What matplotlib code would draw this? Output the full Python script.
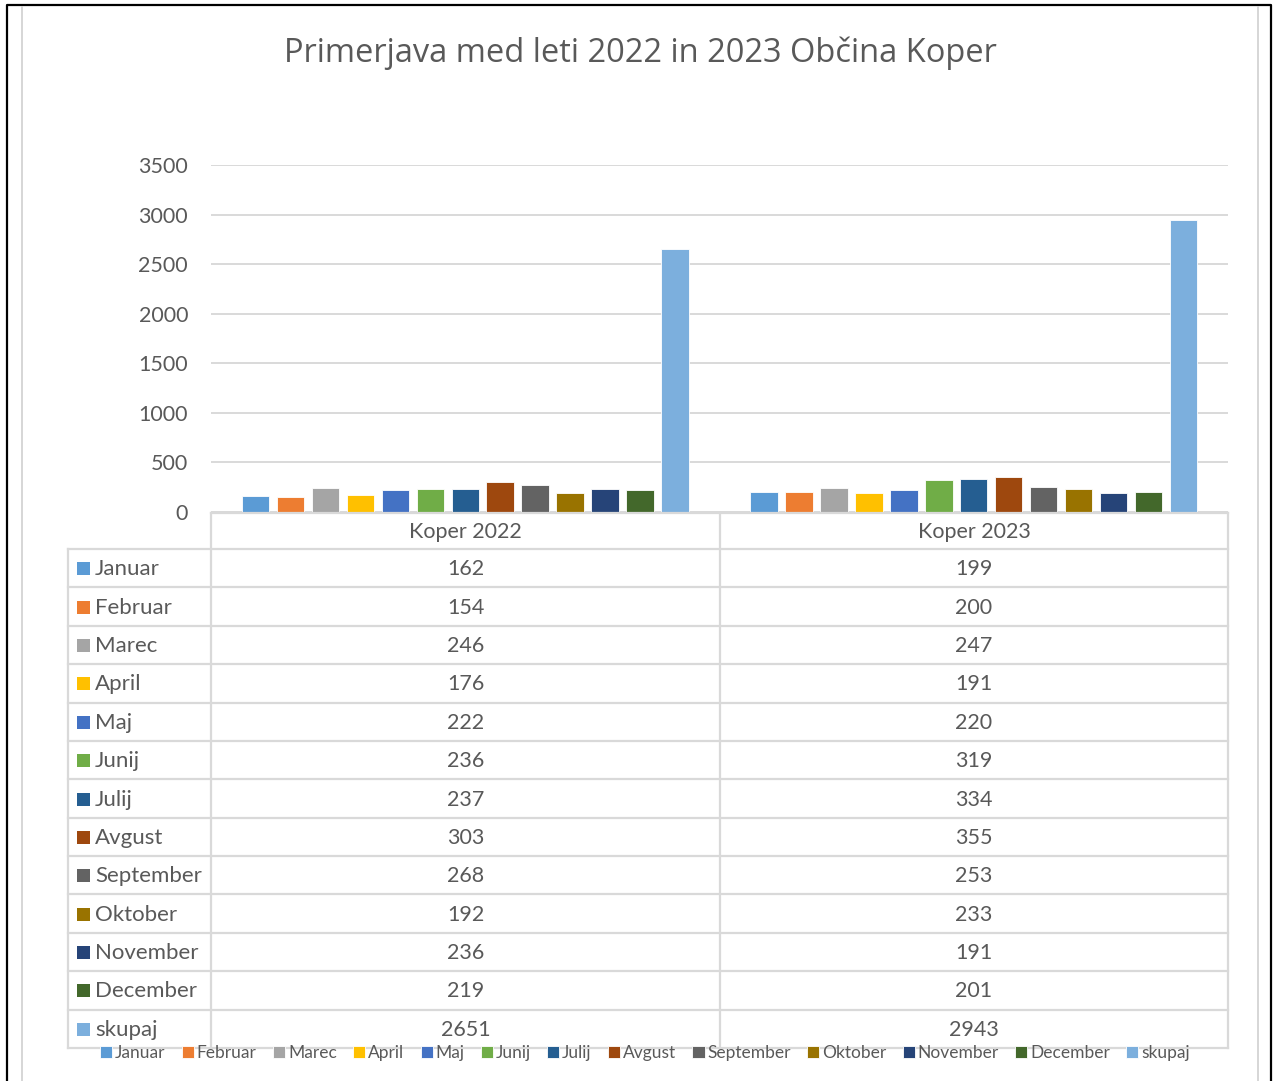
import numpy as np
import matplotlib.pyplot as plt
from matplotlib.lines import Line2D
from matplotlib.patches import Rectangle

# podatki
series = ['Januar', 'Februar', 'Marec', 'April', 'Maj', 'Junij', 'Julij',
          'Avgust', 'September', 'Oktober', 'November', 'December', 'skupaj']
groups = ['Koper 2022', 'Koper 2023']
koper_2022 = [162, 154, 246, 176, 222, 236, 237, 303, 268, 192, 236, 219, 2651]
koper_2023 = [199, 200, 247, 191, 220, 319, 334, 355, 253, 233, 191, 201, 2943]
colors = ['#5B9BD5', '#ED7D31', '#A5A5A5', '#FFC000', '#4472C4', '#70AD47',
          '#255E91', '#9E480E', '#636363', '#997300', '#264478', '#43682B',
          '#7CAFDD']
yticks = [0, 500, 1000, 1500, 2000, 2500, 3000, 3500]

TXT = '#595959'
GRID = '#D9D9D9'
FONT = 'Lato'

W, H = 1278, 1081
fig = plt.figure(figsize=(W / 100, H / 100), dpi=100)


def box(x0, y0, x1, y1):
    return [x0 / W, 1 - y1 / H, (x1 - x0) / W, (y1 - y0) / H]


# okvir
fig.add_artist(Line2D([7 / W, 7 / W, 1271 / W, 1271 / W],
                      [0, 1 - 5 / H, 1 - 5 / H, 0], color='black', lw=1.6))
fig.add_artist(Line2D([22 / W, 22 / W], [0, 1 - 7 / H], color='#D0D0D0', lw=1.2))
fig.add_artist(Line2D([1258 / W, 1258 / W], [0, 1 - 7 / H], color='#D0D0D0', lw=1.2))

fig.text(640 / W, 1 - 53 / H, 'Primerjava med leti 2022 in 2023 Občina Koper',
         ha='center', va='center', fontsize=23.5, color=TXT, family='Open Sans')

# stolpci
ax = fig.add_axes(box(211, 165, 1228, 512))
values = np.array([koper_2022, koper_2023])
x = np.arange(len(groups))
pitch = 35 / 509
width = 27.5 / 509
handles = []
for i, name in enumerate(series):
    b = ax.bar(x + (i - 6) * pitch, values[:, i], width, color=colors[i],
               edgecolor='white', linewidth=0.6, label=name, zorder=3)
    handles.append(b)
ax.set_xlim(-0.5, 1.5)
ax.set_ylim(0, 3500)
ax.set_yticks(yticks)
ax.yaxis.grid(True, color=GRID, lw=1.4)
ax.set_axisbelow(True)
ax.tick_params(axis='y', length=0, pad=16.5, labelsize=15.5, labelcolor=TXT)
ax.tick_params(axis='x', bottom=False, labelbottom=False)
for lab in ax.get_yticklabels():
    lab.set_family(FONT)
for s in ax.spines.values():
    s.set_visible(False)

# tabela s podatki
tab = fig.add_axes(box(68, 513, 1228, 1048))
tab.set_xlim(68, 1228)
tab.set_ylim(1048, 513)
tab.axis('off')
row_top = 549
row_h = (1048 - 549) / len(series)
cols = [211, 720, 1228]
lk = dict(color=GRID, lw=1.6, clip_on=False)
tab.plot([211, 1228], [513, 513], **lk)
for c in cols:
    tab.plot([c, c], [513, 1048], **lk)
tab.plot([68, 68], [row_top, 1048], **lk)
for r in range(len(series) + 1):
    yy = row_top + r * row_h
    tab.plot([68, 1228], [yy, yy], **lk)
for j, g in enumerate(groups):
    tab.text((cols[j] + cols[j + 1]) / 2, (513 + row_top) / 2 + 1, g,
             ha='center', va='center', fontsize=15.5, color=TXT, family=FONT)
for r, name in enumerate(series):
    yc = row_top + (r + 0.5) * row_h + 1
    tab.add_patch(Rectangle((77, yc - 7), 13, 13, color=colors[r], lw=0))
    tab.text(95, yc, name, ha='left', va='center', fontsize=16,
             color=TXT, family=FONT)
    for j in range(len(groups)):
        tab.text((cols[j] + cols[j + 1]) / 2, yc, str(values[j, r]),
                 ha='center', va='center', fontsize=15.5, color=TXT, family=FONT)

# legenda
leg = fig.legend(handles=handles, labels=series, loc='center', ncol=13,
                 bbox_to_anchor=(645 / W, 1 - 1053 / H), frameon=False,
                 prop={'family': FONT, 'size': 12.5}, handlelength=0.7,
                 handleheight=0.7, handletextpad=0.15, columnspacing=0.95,
                 borderpad=0, borderaxespad=0)
for t in leg.get_texts():
    t.set_color(TXT)

fig.savefig('out.png', dpi=100)
